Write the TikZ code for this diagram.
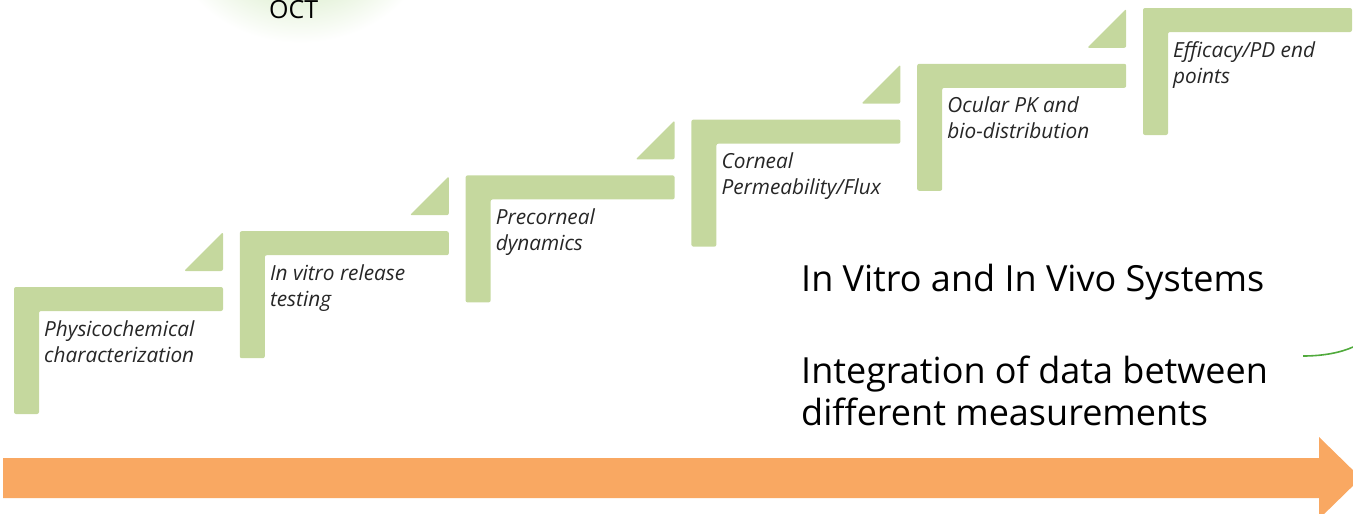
\documentclass[tikz,border=0pt]{standalone}
\usepackage{fontspec}
\setmainfont{Open Sans}
\definecolor{stepgreen}{RGB}{197,216,158}
\definecolor{arroworange}{RGB}{249,168,98}
\definecolor{arcgreen}{RGB}{80,170,60}
\definecolor{octgreen}{RGB}{188,222,160}
\tikzset{
  stepfill/.style={fill=stepgreen, draw=none, rounded corners=2pt},
  steptext/.style={inner sep=0pt, font=\itshape\fontsize{20.8}{26}\selectfont, text=black!85},
  bigtext/.style={inner sep=0pt, font=\fontsize{36}{42}\selectfont, text=black},
}
\begin{document}
\begin{tikzpicture}[x=1pt,y=-1pt]
\useasboundingbox (0,0) rectangle (1353,514);
\begin{scope}
\clip (0,0) rectangle (1353,514);
% OCT circle fragment
\shade[inner color=octgreen, outer color=white] (300,-75) ellipse [x radius=135, y radius=118];
\node[inner sep=0pt, anchor=base west, font=\fontsize{25}{28}\selectfont] (oct) at (269,18) {OCT};
% steps
\foreach \i/\a/\b in {0/Physicochemical/characterization, 1/{In vitro release}/testing, 2/Precorneal/dynamics, 3/Corneal/{Permeability/Flux}, 4/{Ocular PK and}/bio-distribution, 5/{Efficacy/PD end}/points}{
  \pgfmathsetmacro\xx{14+225.8*\i}
  \pgfmathsetmacro\yy{287-55.8*\i}
  \path[stepfill] (\xx,\yy) -- (\xx+209,\yy) -- (\xx+209,\yy+24) -- (\xx+25,\yy+24) -- (\xx+25,\yy+127) -- (\xx,\yy+127) -- cycle;
  \ifnum\i<5
    \path[stepfill] (\xx+170,\yy-16) -- (\xx+209,\yy-55) -- (\xx+209,\yy-16) -- cycle;
  \fi
  \node[steptext, anchor=base west] (t\i) at (\xx+30,\yy+49) {\begin{tabular}[t]{@{}l@{}}\a\\\b\end{tabular}};
}
% big texts
\node[bigtext, anchor=base west] (sys) at (801,291) {In Vitro and In Vivo Systems};
\node[bigtext, anchor=base west] (integ) at (801,383) {\begin{tabular}[t]{@{}l@{}}Integration of data between\\different measurements\end{tabular}};
% green arc fragment
\coordinate (arcA) at (1303,356);
\coordinate (arcB) at (1353,347);
\draw[arcgreen, line width=1.6pt] (arcA) .. controls (1325,356) and (1342,352) .. (arcB);
% orange arrow
\fill[arroworange] (3,458) -- (1319,458) -- (1319,437) -- (1361,478) -- (1319,519) -- (1319,498) -- (3,498) -- cycle;
\end{scope}
\end{tikzpicture}
\end{document}
